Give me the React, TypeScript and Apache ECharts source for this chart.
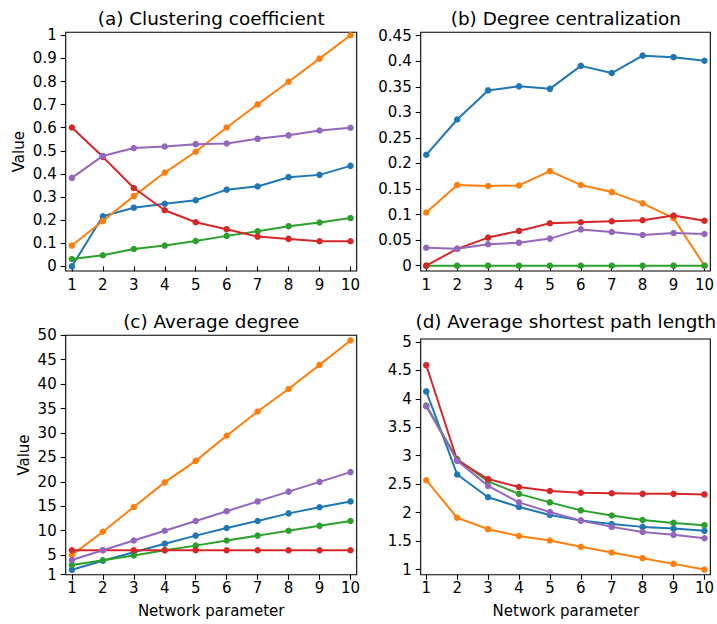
import React, { useEffect, useRef } from "react";
import * as echarts from "echarts";

const xs = [1, 2, 3, 4, 5, 6, 7, 8, 9, 10];
const xTicks = [1, 2, 3, 4, 5, 6, 7, 8, 9, 10];

const titles = [
  "(a) Clustering coefficient",
  "(b) Degree centralization",
  "(c) Average degree",
  "(d) Average shortest path length",
];

const colors = ["#1f77b4", "#ff7f0e", "#2ca02c", "#d62728", "#9467bd"];

// (a) Clustering coefficient
const aBlue = [0.0, 0.217, 0.254, 0.271, 0.286, 0.332, 0.346, 0.386, 0.396, 0.435];
const aOrange = [0.09, 0.196, 0.304, 0.406, 0.496, 0.601, 0.701, 0.799, 0.899, 1.0];
const aGreen = [0.032, 0.048, 0.075, 0.09, 0.11, 0.132, 0.152, 0.174, 0.19, 0.209];
const aRed = [0.601, 0.474, 0.339, 0.243, 0.191, 0.161, 0.129, 0.119, 0.109, 0.109];
const aPurple = [0.383, 0.478, 0.512, 0.519, 0.529, 0.532, 0.552, 0.567, 0.588, 0.6];
const aTicks = [0, 0.1, 0.2, 0.3, 0.4, 0.5, 0.6, 0.7, 0.8, 0.9, 1];

// (b) Degree centralization
const bBlue = [0.217, 0.286, 0.343, 0.351, 0.346, 0.391, 0.377, 0.411, 0.408, 0.401];
const bOrange = [0.104, 0.158, 0.156, 0.157, 0.185, 0.158, 0.144, 0.122, 0.093, 0.0];
const bGreen = [0, 0, 0, 0, 0, 0, 0, 0, 0, 0];
const bRed = [0.0, 0.033, 0.055, 0.068, 0.083, 0.085, 0.087, 0.089, 0.098, 0.088];
const bPurple = [0.035, 0.033, 0.042, 0.045, 0.053, 0.071, 0.066, 0.06, 0.064, 0.062];
const bTicks = [0, 0.05, 0.1, 0.15, 0.2, 0.25, 0.3, 0.35, 0.4, 0.45];

// (c) Average degree
const cBlue = [2.0, 3.85, 5.6, 7.35, 9.0, 10.55, 12.0, 13.55, 14.8, 16.0];
const cOrange = [5.0, 9.8, 14.85, 19.9, 24.3, 29.45, 34.4, 39.0, 43.95, 48.95];
const cGreen = [3.0, 3.95, 4.93, 6.0, 6.95, 8.0, 9.0, 10.0, 11.0, 12.0];
const cRed = [6.0, 6.0, 6.0, 6.0, 6.0, 6.0, 6.0, 6.0, 6.0, 6.0];
const cPurple = [4.0, 6.0, 8.0, 10.0, 12.0, 14.0, 16.0, 18.0, 20.0, 22.0];
const cTicks = [1, 5, 10, 15, 20, 25, 30, 35, 40, 45, 50];

// (d) Average shortest path length
const dBlue = [4.13, 2.67, 2.27, 2.1, 1.96, 1.86, 1.8, 1.75, 1.72, 1.68];
const dOrange = [2.57, 1.91, 1.71, 1.59, 1.51, 1.4, 1.3, 1.2, 1.1, 1.0];
const dGreen = [3.88, 2.94, 2.55, 2.33, 2.18, 2.04, 1.95, 1.87, 1.82, 1.78];
const dRed = [4.59, 2.92, 2.59, 2.45, 2.38, 2.35, 2.34, 2.33, 2.33, 2.32];
const dPurple = [3.87, 2.91, 2.47, 2.18, 2.01, 1.86, 1.75, 1.66, 1.61, 1.55];
const dTicks = [1, 1.5, 2, 2.5, 3, 3.5, 4, 4.5, 5];

const panels = [
  { series: [aBlue, aOrange, aGreen, aRed, aPurple], ticks: aTicks, yMin: -0.02, yMax: 1.013 },
  { series: [bBlue, bOrange, bGreen, bRed, bPurple], ticks: bTicks, yMin: -0.0104, yMax: 0.4567 },
  { series: [cBlue, cOrange, cGreen, cRed, cPurple], ticks: cTicks, yMin: 1, yMax: 50 },
  { series: [dBlue, dOrange, dGreen, dRed, dPurple], ticks: dTicks, yMin: 0.91, yMax: 5.05 },
];

const FONT = "DejaVu Sans";

const layout = [
  { left: 65.7, top: 32.3, width: 291, height: 238.7, xMin: 0.8, xMax: 10.2 },
  { left: 420.7, top: 32.3, width: 290.3, height: 238.7, xMin: 0.82, xMax: 10.19 },
  { left: 65.7, top: 335.3, width: 291, height: 239.4, xMin: 0.8, xMax: 10.2 },
  { left: 420.7, top: 339, width: 290.3, height: 235.7, xMin: 0.82, xMax: 10.19 },
];

export default function App() {
  const ref = useRef<HTMLDivElement>(null);

  useEffect(() => {
    if (!ref.current) return;
    const chart = echarts.init(ref.current, undefined, { renderer: "svg" });

    const grid = layout.map((l) => ({
      left: l.left,
      top: l.top,
      width: l.width,
      height: l.height,
      show: true,
      borderColor: "#000",
      borderWidth: 1.1,
      backgroundColor: "transparent",
      containLabel: false,
    }));

    const labelStyle = { fontSize: 15, fontFamily: FONT, color: "#000" };

    const xAxis = layout.map((l, i) => ({
      type: "value",
      gridIndex: i,
      min: l.xMin,
      max: l.xMax,
      axisLine: { show: false },
      splitLine: { show: false },
      axisTick: {
        show: true,
        inside: false,
        length: 5,
        lineStyle: { color: "#000", width: 1.1 },
        customValues: xTicks,
      },
      axisLabel: { ...labelStyle, margin: 6, customValues: xTicks },
    }));

    const yAxis = panels.map((p, i) => ({
      type: "value",
      gridIndex: i,
      min: p.yMin,
      max: p.yMax,
      axisLine: { show: false },
      splitLine: { show: false },
      axisTick: {
        show: true,
        inside: false,
        length: 5,
        lineStyle: { color: "#000", width: 1.1 },
        customValues: p.ticks,
      },
      axisLabel: { ...labelStyle, margin: 9, customValues: p.ticks },
    }));

    const series: any[] = [];
    panels.forEach((p, pi) => {
      p.series.forEach((arr, si) => {
        series.push({
          type: "line",
          xAxisIndex: pi,
          yAxisIndex: pi,
          data: xs.map((x, k) => [x, arr[k]]),
          symbol: "circle",
          symbolSize: 6.5,
          showSymbol: true,
          z: 10 + si,
          silent: true,
          clip: false,
          lineStyle: { color: colors[si], width: 2 },
          itemStyle: { color: colors[si] },
          emphasis: { disabled: true },
        });
      });
    });

    const titleY = [18.5, 18.5, 321.3, 321.3];
    const graphic: any[] = titles.map((t, i) => ({
      type: "text",
      x: layout[i].left + layout[i].width / 2,
      y: titleY[i],
      silent: true,
      style: {
        text: t,
        fontSize: 18.4,
        fontFamily: FONT,
        fill: "#000",
        textAlign: "center",
        textVerticalAlign: "middle",
      },
    }));
    const ylabels = [
      { x: 19, y: layout[0].top + layout[0].height / 2 },
      { x: 24, y: layout[2].top + layout[2].height / 2 },
    ];
    ylabels.forEach((p) =>
      graphic.push({
        type: "text",
        x: p.x,
        y: p.y,
        rotation: Math.PI / 2,
        silent: true,
        style: {
          text: "Value",
          fontSize: 15,
          fontFamily: FONT,
          fill: "#000",
          textAlign: "center",
          textVerticalAlign: "middle",
        },
      })
    );
    [2, 3].forEach((i) =>
      graphic.push({
        type: "text",
        x: layout[i].left + layout[i].width / 2,
        y: 610.5,
        silent: true,
        style: {
          text: "Network parameter",
          fontSize: 15,
          fontFamily: FONT,
          fill: "#000",
          textAlign: "center",
          textVerticalAlign: "middle",
        },
      })
    );

    chart.setOption({
      animation: false,
      backgroundColor: "#fff",
      grid,
      xAxis,
      yAxis,
      series,
      graphic,
    });

    return () => chart.dispose();
  }, []);

  return (
    <div
      ref={ref}
      style={{ position: "fixed", left: 0, top: 0, width: 717, height: 624 }}
    />
  );
}
